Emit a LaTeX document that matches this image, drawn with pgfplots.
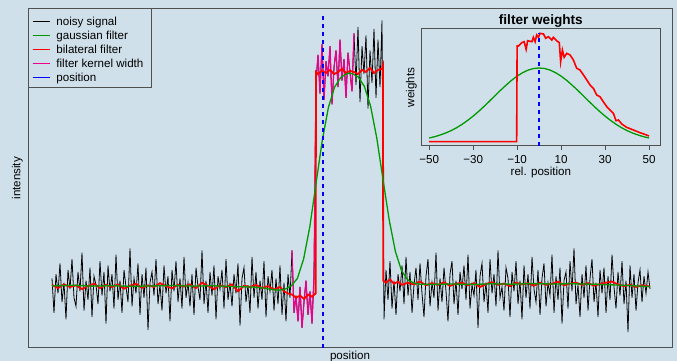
\documentclass[border=0pt]{standalone}
\usepackage{fontspec}
\setmainfont{Liberation Sans}
\usepackage{pgfplots}
\pgfplotsset{compat=1.18}
\usepackage{pgfplotstable}
\definecolor{bg}{HTML}{CFE0EA}
\definecolor{boxcol}{HTML}{505050}
\definecolor{rgreen}{HTML}{009A00}

% noisy signal, one value per position 0..299
\pgfplotstableread[row sep=\\,header=false]{
0.04\\ -0.12\\ 0.06\\ -0.03\\ 0.11\\ -0.07\\ 0.02\\ -0.15\\ 0.08\\ -0.01\\
0.13\\ -0.05\\ -0.09\\ 0.07\\ -0.02\\ 0.16\\ -0.11\\ 0.03\\ -0.06\\ 0.09\\
-0.14\\ 0.05\\ 0.01\\ -0.08\\ 0.12\\ -0.04\\ 0.07\\ -0.17\\ 0.10\\ -0.02\\
0.06\\ -0.10\\ 0.15\\ -0.06\\ 0.03\\ -0.12\\ 0.08\\ 0.00\\ -0.07\\ 0.18\\
-0.09\\ 0.04\\ -0.03\\ 0.11\\ -0.13\\ 0.06\\ -0.05\\ 0.09\\ -0.20\\ 0.02\\
0.07\\ -0.04\\ 0.13\\ -0.08\\ 0.01\\ -0.11\\ 0.10\\ -0.03\\ 0.05\\ -0.16\\
0.08\\ -0.02\\ 0.12\\ -0.07\\ 0.04\\ -0.10\\ 0.14\\ -0.05\\ 0.02\\ -0.09\\
0.06\\ -0.13\\ 0.09\\ 0.00\\ -0.06\\ 0.17\\ -0.08\\ 0.03\\ -0.12\\ 0.07\\
-0.04\\ 0.10\\ -0.15\\ 0.05\\ -0.01\\ 0.08\\ -0.10\\ 0.13\\ -0.06\\ 0.02\\
-0.09\\ 0.06\\ -0.03\\ 0.11\\ -0.18\\ 0.04\\ 0.09\\ -0.07\\ 0.01\\ -0.12\\
0.14\\ -0.05\\ 0.07\\ -0.10\\ 0.03\\ -0.06\\ 0.12\\ -0.14\\ 0.05\\ -0.02\\
0.08\\ -0.11\\ 0.04\\ -0.08\\ 0.10\\ -0.13\\ 0.02\\ -0.16\\ 0.06\\ -0.05\\
0.17\\ -0.12\\ -0.04\\ -0.16\\ 0.00\\ -0.19\\ -0.07\\ 0.03\\ -0.13\\ -0.02\\
-0.17\\ 0.05\\ 0.95\\ 1.08\\ 0.90\\ 1.13\\ 0.87\\ 1.05\\ 0.98\\ 1.12\\
0.85\\ 1.02\\ 1.10\\ 0.93\\ 1.15\\ 0.96\\ 1.06\\ 0.88\\ 1.09\\ 1.00\\
0.91\\ 1.18\\ 0.94\\ 1.21\\ 0.86\\ 1.12\\ 0.99\\ 1.17\\ 0.83\\ 1.10\\
0.95\\ 1.20\\ 0.88\\ 1.15\\ 0.93\\ 1.24\\ -0.15\\ 0.08\\ -0.06\\ 0.12\\
-0.10\\ 0.03\\ -0.13\\ 0.06\\ -0.02\\ 0.10\\ -0.08\\ 0.14\\ -0.04\\ 0.07\\
-0.12\\ 0.01\\ 0.09\\ -0.06\\ 0.11\\ -0.03\\ -0.14\\ 0.05\\ 0.13\\ -0.09\\
0.02\\ -0.05\\ 0.16\\ -0.11\\ 0.04\\ -0.07\\ 0.09\\ -0.02\\ -0.16\\ 0.06\\
0.12\\ -0.08\\ 0.03\\ -0.13\\ 0.07\\ -0.01\\ 0.10\\ -0.06\\ 0.15\\ -0.10\\
0.01\\ -0.04\\ 0.08\\ -0.19\\ 0.05\\ 0.11\\ -0.07\\ 0.02\\ -0.12\\ 0.13\\
-0.03\\ 0.06\\ -0.09\\ 0.17\\ -0.05\\ 0.00\\ -0.11\\ 0.09\\ 0.04\\ -0.14\\
0.07\\ -0.02\\ 0.12\\ -0.08\\ 0.03\\ -0.15\\ 0.10\\ -0.05\\ 0.06\\ -0.10\\
0.14\\ -0.01\\ -0.07\\ 0.08\\ -0.13\\ 0.04\\ 0.11\\ -0.09\\ 0.02\\ -0.04\\
0.15\\ -0.12\\ 0.05\\ -0.06\\ 0.09\\ -0.17\\ 0.03\\ 0.07\\ -0.10\\ 0.12\\
-0.02\\ 0.18\\ -0.08\\ 0.01\\ -0.14\\ 0.06\\ -0.05\\ 0.10\\ -0.11\\ 0.04\\
0.13\\ -0.07\\ 0.02\\ -0.14\\ 0.08\\ -0.03\\ 0.09\\ -0.12\\ 0.05\\ -0.06\\
0.15\\ 0.00\\ -0.10\\ 0.07\\ -0.04\\ 0.12\\ -0.08\\ 0.03\\ -0.21\\ 0.10\\
-0.05\\ 0.06\\ -0.11\\ 0.02\\ 0.08\\ -0.07\\ 0.05\\ -0.03\\ 0.07\\ -0.01\\
}\noisy

\begin{document}
\begin{tikzpicture}[font=\fontsize{11.6bp}{13bp}\selectfont]
\useasboundingbox (0,0) rectangle (677bp,361bp);
\fill[bg] (0,0) rectangle (677bp,361bp);

% ---------------- main plot ----------------
\begin{axis}[
  at={(28bp,13bp)}, anchor=south west,
  scale only axis, width=644bp, height=339.5bp,
  xmin=-12, xmax=310, ymin=-0.2837, ymax=1.2953,
  xtick=\empty, ytick=\empty,
  axis line style={draw=boxcol, line width=1bp},
  xlabel={position}, ylabel={intensity},
  xlabel style={at={(axis description cs:0.5,0)}, anchor=base, inner sep=0pt, yshift=-12bp},
  ylabel style={at={(axis description cs:-0.0078,0.5)}, anchor=south, inner sep=0pt},
]
\addplot[black, line width=0.8bp] table[x expr=\coordindex, y index=0] {\noisy};
\addplot[magenta, line width=1.2bp, restrict x to domain=120:151] table[x expr=\coordindex, y index=0] {\noisy};
\addplot[red, line width=1.8bp] coordinates {
(0,0.01)(3,-0.005)(6,0.012)(9,0.0)(12,0.008)(15,-0.01)(18,0.005)(21,0.015)(24,-0.005)(27,0.01)
(30,0.0)(33,0.012)(36,-0.008)(39,0.006)(42,0.015)(45,-0.004)(48,0.008)(51,0.0)(54,0.018)(57,0.004)
(60,-0.006)(63,0.01)(66,0.002)(69,0.012)(72,-0.005)(75,0.02)(78,0.005)(81,-0.01)(84,0.008)(87,0.0)
(90,0.012)(93,-0.02)(96,0.006)(99,0.0)(102,0.01)(105,-0.005)(108,0.004)(111,-0.012)(114,0.0)(116,-0.02)
(118,-0.03)(120,-0.035)(122,-0.05)(124,-0.04)(126,-0.055)(128,-0.035)(130,-0.045)(131.8,-0.03)
(132,1.0)(133,0.99)(135,1.005)(137,0.995)(139,1.01)(141,0.99)(143,1.0)(145,1.015)(147,0.995)(149,1.005)
(151,1.0)(153,0.99)(155,1.01)(157,1.0)(159,1.02)(161,0.995)(163,1.01)(165,1.015)(165.5,1.03)
(165.6,0.03)(167,0.02)(169,0.035)(171,0.015)(173,0.025)(175,0.01)(178,0.02)(181,0.012)(184,0.025)(187,0.008)
(190,0.018)(193,0.01)(196,0.022)(199,0.005)(202,0.015)(205,0.02)(208,0.008)(211,0.018)(214,0.0)(217,0.014)
(220,0.022)(223,0.01)(226,0.016)(229,0.004)(232,0.02)(235,0.012)(238,0.018)(241,0.006)(244,0.02)(247,0.01)
(250,0.015)(253,0.025)(256,0.008)(259,0.016)(262,0.02)(265,0.01)(268,0.018)(271,0.006)(274,0.014)(277,0.02)
(280,0.025)(283,0.012)(286,0.004)(289,0.01)(292,0.0)(295,0.008)(299,0.002)
};
\addplot[rgreen, line width=1.3bp] coordinates {
(0,0.005)(10,0.008)(20,0.004)(30,0.006)(40,0.003)(50,0.005)(60,0.007)(70,0.004)(80,0.006)(90,0.002)
(100,0.0)(106,-0.005)(110,-0.012)(113.4,-0.015)(116.5,-0.01)(119.6,0.005)(122.7,0.04)(125.8,0.13)
(128.9,0.28)(132,0.48)(135.1,0.68)(138.2,0.835)(141.3,0.93)(144.4,0.975)(146.9,0.99)(148.75,0.995)
(150.6,0.99)(153.1,0.977)(156.2,0.933)(159.3,0.841)(162.4,0.692)(165.5,0.5)(168.6,0.312)(171.7,0.165)
(174.8,0.075)(177.9,0.033)(181,0.018)(184.1,0.013)(190,0.012)(200,0.014)(210,0.012)(220,0.015)
(230,0.013)(240,0.016)(250,0.014)(260,0.015)(270,0.013)(280,0.01)(290,0.006)(299,0.002)
};
\addplot[blue, line width=1.5bp, dash pattern=on 4bp off 4bp] coordinates {(135.5,-0.2837)(135.5,1.265)};
% legend box (text) and its sample lines
\node[anchor=north west, draw=boxcol, line width=0.8bp, fill=none, inner xsep=6bp, inner ysep=2.1bp,
  font=\fontsize{11.6bp}{14bp}\selectfont, align=left] at (rel axis cs:0,1)
  {\begin{tabular}{@{}l@{\hspace{2bp}}}
   \rule{0pt}{14.4bp}\hspace{22bp}noisy signal\\
   \hspace{22bp}gaussian filter\\
   \hspace{22bp}bilateral filter\\
   \hspace{22bp}filter kernel width\\
   \hspace{22bp}position
   \end{tabular}};
\draw[black, line width=1.8bp] ([xshift=5bp,yshift=-13bp]rel axis cs:0,1) -- ([xshift=22bp,yshift=-13bp]rel axis cs:0,1);
\draw[rgreen, line width=1.8bp] ([xshift=5bp,yshift=-27bp]rel axis cs:0,1) -- ([xshift=22bp,yshift=-27bp]rel axis cs:0,1);
\draw[red, line width=1.8bp] ([xshift=5bp,yshift=-41bp]rel axis cs:0,1) -- ([xshift=22bp,yshift=-41bp]rel axis cs:0,1);
\draw[magenta, line width=1.8bp] ([xshift=5bp,yshift=-55bp]rel axis cs:0,1) -- ([xshift=22bp,yshift=-55bp]rel axis cs:0,1);
\draw[blue, line width=1.8bp] ([xshift=5bp,yshift=-69bp]rel axis cs:0,1) -- ([xshift=22bp,yshift=-69bp]rel axis cs:0,1);
\end{axis}

% ---------------- inset ----------------
\begin{axis}[
  at={(421.7bp,215bp)}, anchor=south west,
  scale only axis, width=238.3bp, height=117bp,
  xmin=-53.4, xmax=55, ymin=-0.04, ymax=1.13,
  xtick={-50,-30,-10,10,30,50}, xticklabels={−50,−30,−10,10,30,50},
  ytick=\empty, xtick pos=left, tick align=outside, major tick length=4bp,
  tick style={draw=boxcol, line width=0.8bp},
  axis line style={draw=boxcol, line width=1bp},
  xticklabel style={inner sep=0pt, anchor=north, yshift=-5bp},
  xlabel={rel. position}, ylabel={weights},
  xlabel style={at={(axis description cs:0.5,0)}, anchor=base, inner sep=0pt, yshift=-29.5bp},
  ylabel style={at={(axis description cs:-0.0197,0.5)}, anchor=south, inner sep=0pt},
  title={filter weights},
  title style={at={(axis description cs:0.5,1)}, anchor=base, inner sep=0pt, yshift=-1bp,
    font=\fontsize{13.6bp}{15bp}\selectfont\bfseries},
]
\addplot[rgreen, line width=1.3bp] coordinates {
(-50,0.040)(-47.5,0.053)(-45,0.070)(-42.5,0.090)(-40,0.114)(-37.5,0.143)(-35,0.177)(-32.5,0.216)
(-30,0.259)(-27.5,0.306)(-25,0.357)(-22.5,0.410)(-20,0.464)(-17.5,0.518)(-15,0.569)(-12.5,0.617)
(-10,0.659)(-7.5,0.693)(-5,0.719)(-2.5,0.735)(0,0.74)(2.5,0.735)(5,0.719)(7.5,0.693)(10,0.659)
(12.5,0.617)(15,0.569)(17.5,0.518)(20,0.464)(22.5,0.410)(25,0.357)(27.5,0.306)(30,0.259)(32.5,0.216)
(35,0.177)(37.5,0.143)(40,0.114)(42.5,0.090)(45,0.070)(47.5,0.053)(50,0.040)
};
\addplot[red, line width=1.6bp] coordinates {
(-50,0.003)(-10.2,0.003)(-10,0.96)(-9.4,0.96)(-7.9,0.993)(-6.8,1.003)(-5.9,0.927)(-5.2,1.013)
(-3.3,1.003)(-2.6,1.047)(-1.8,1.003)(-1.1,1.07)(-0.3,1.047)(0.45,1.087)(2.0,1.08)(3.0,1.037)
(4.2,1.053)(5.8,1.02)(6.5,1.047)(8.0,1.013)(9.2,0.993)(9.8,0.803)(10.6,0.92)(11.4,0.847)
(12.6,0.887)(14.1,0.87)(15.6,0.82)(17.1,0.737)(18.6,0.72)(20.2,0.67)(21.7,0.62)(23.2,0.57)
(24.7,0.537)(26.2,0.47)(27.7,0.453)(29.2,0.403)(30.8,0.353)(32.3,0.32)(33.8,0.287)(35,0.213)
(36.1,0.22)(37.6,0.18)(39.8,0.147)(42.9,0.12)(45.9,0.093)(48.9,0.07)(50,0.06)
};
\addplot[blue, line width=1.5bp, dash pattern=on 4bp off 4bp] coordinates {(0,-0.04)(0,1.087)};
\end{axis}
\end{tikzpicture}
\end{document}
